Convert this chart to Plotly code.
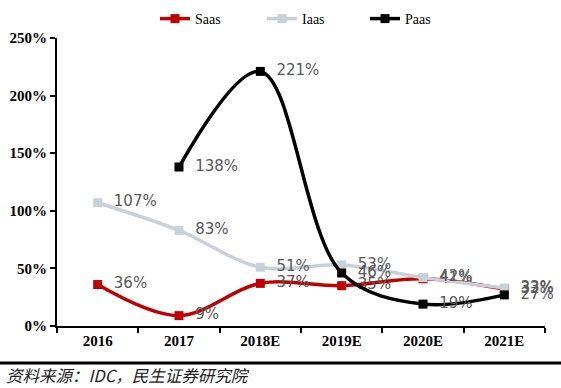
import plotly.graph_objects as go

categories = ["2016", "2017", "2018E", "2019E", "2020E", "2021E"]
saas = [36, 9, 37, 35, 41, 32]
iaas = [107, 83, 51, 53, 42, 33]
paas = [None, 138, 221, 46, 19, 27]
y_ticks = [0, 50, 100, 150, 200, 250]
y_tick_labels = ["0%", "50%", "100%", "150%", "200%", "250%"]

series = [
    ("Saas", saas, "#C00000", "legend", 155),
    ("Iaas", iaas, "#C8D0D9", "legend2", 262),
    ("Paas", paas, "#000000", "legend3", 365),
]

fig = go.Figure()
legend_layout = {}
for name, vals, color, lg, lx in series:
    fig.add_trace(go.Scatter(
        x=categories, y=vals, name=name, mode="lines+markers+text",
        line=dict(color=color, width=3.5, shape="spline", smoothing=1.0),
        marker=dict(symbol="square", size=9, color=color),
        text=[f"  {v}%" if v is not None else "" for v in vals],
        textposition="middle right",
        textfont=dict(family="DejaVu Sans", size=15, color="#595959"),
        connectgaps=False,
        cliponaxis=False,
        legend=lg,
    ))
    legend_layout[lg] = dict(orientation="h", x=lx/561, xanchor="left", xref="container",
                             y=1 - 19/388, yanchor="middle", yref="container",
                             font=dict(family="Liberation Serif", size=14, color="#000"),
                             bgcolor="rgba(0,0,0,0)", borderwidth=0)

fig.update_layout(
    width=561, height=388,
    margin=dict(l=57, r=16, t=38, b=62, autoexpand=False),
    plot_bgcolor="white", paper_bgcolor="white",
    showlegend=True,
    xaxis=dict(type="category", range=[-0.5, 5.5], tickson="boundaries",
               showline=True, linecolor="#000", linewidth=2, automargin=False,
               ticks="outside", ticklen=5, tickwidth=2, tickcolor="#000",
               tickfont=dict(family="Liberation Serif", size=15, color="#000", weight="bold"),
               showgrid=False),
    yaxis=dict(range=[0, 250], tickvals=y_ticks, ticktext=y_tick_labels,
               showline=True, linecolor="#000", linewidth=2, automargin=False,
               ticks="outside", ticklen=5, tickwidth=2, tickcolor="#000",
               tickfont=dict(family="Liberation Serif", size=15, color="#000", weight="bold"),
               showgrid=False, zeroline=False),
    **legend_layout,
)

fig.add_shape(type="line", xref="paper", yref="paper", x0=-57/488, x1=(561-57)/488,
              y0=-37/288, y1=-37/288, line=dict(color="#000", width=3))
fig.add_annotation(text="资料来源：IDC，民生证券研究院", xref="paper", yref="paper",
                   x=-53/488, y=-49/288, xanchor="left", yanchor="middle", showarrow=False,
                   font=dict(family="Noto Sans CJK SC", size=16.5, color="#222", style="italic"))

fig.write_html("out.html", config={"displayModeBar": False},
               post_script="document.body.style.margin='0';")
